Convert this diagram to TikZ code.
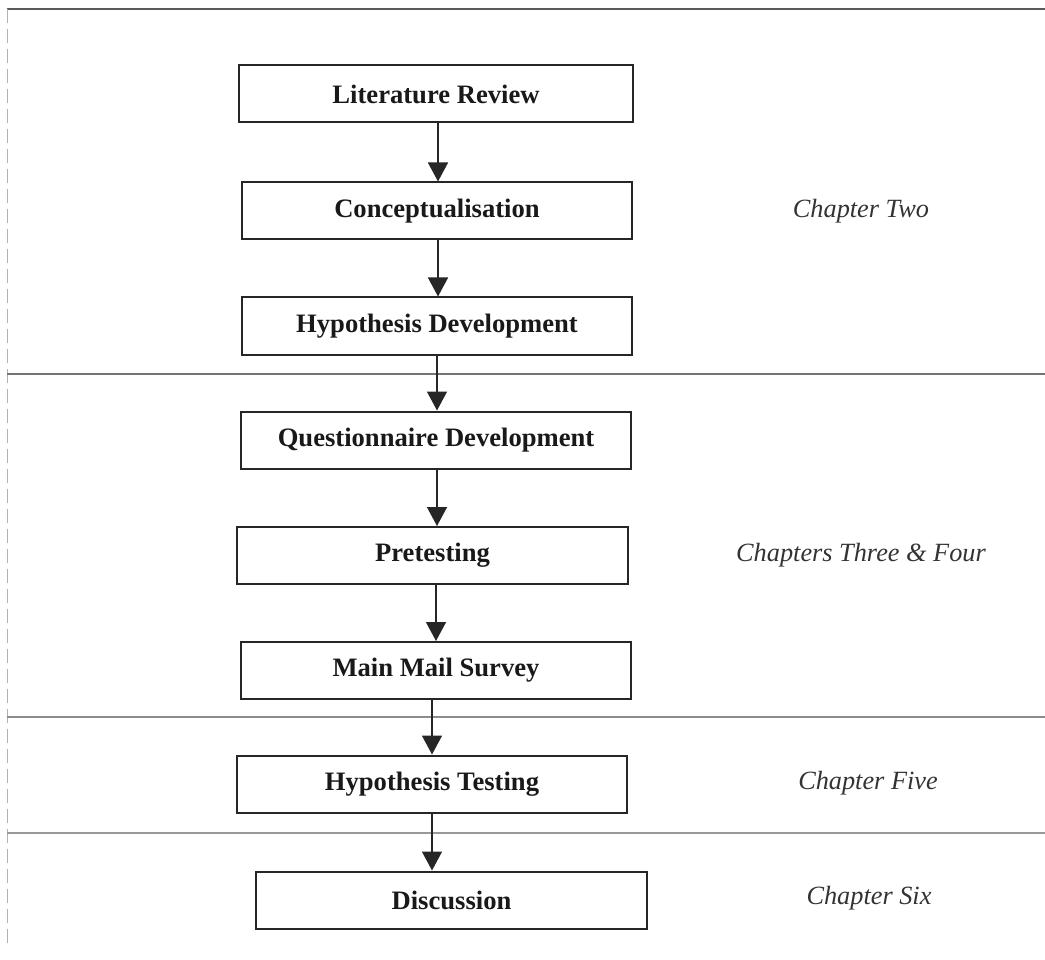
\documentclass[tikz,border=0pt]{standalone}
\usepackage{fontspec}
\setmainfont{Liberation Serif}
\usetikzlibrary{arrows.meta}
\begin{document}
\begin{tikzpicture}[x=1pt,y=-1pt,
  stepbox/.style={draw=black!85, line width=2pt, minimum height=57pt, inner sep=0pt,
    font=\fontsize{26.6}{30}\selectfont\bfseries, text=black!90},
  chap/.style={font=\fontsize{26.3}{30}\selectfont\itshape, text=black!80, inner sep=0pt},
  arr/.style={line width=1.5pt, draw=black!85, -{Triangle[width=20pt,length=19pt]}},
  rule/.style={line width=1.2pt, draw=black!55},
  edge/.style={line width=0.9pt, draw=black!30, dash pattern=on 14pt off 6pt}]
\useasboundingbox (0,0) rectangle (1045,960);
\fill[white] (0,0) rectangle (1045,960);
% frame and separators
\coordinate (tl) at (7,9);
\coordinate (tr) at (1045,9);
\coordinate (bl) at (7,945);
\draw[rule, draw=black!65] (tl) -- (tr);
\draw[edge] (tl) -- (bl);
\coordinate (s1l) at (7,374); \coordinate (s1r) at (1045,374);
\coordinate (s2l) at (7,717); \coordinate (s2r) at (1045,717);
\coordinate (s3l) at (7,833); \coordinate (s3r) at (1045,833);
\draw[rule] (s1l) -- (s1r);
\draw[rule, draw=black!45] (s2l) -- (s2r);
\draw[rule, draw=black!40] (s3l) -- (s3r);
% boxes
\node[stepbox, minimum width=394pt] (lit) at (436,94) {Literature Review};
\node[stepbox, minimum width=390pt] (con) at (437,211) {Conceptualisation};
\node[stepbox, minimum width=390pt] (hyd) at (437,326) {Hypothesis Development};
\node[stepbox, minimum width=390pt] (que) at (436,440) {Questionnaire Development};
\node[stepbox, minimum width=391pt] (pre) at (432.5,555.5) {Pretesting};
\node[stepbox, minimum width=390pt] (mms) at (436,670.5) {Main Mail Survey};
\node[stepbox, minimum width=390pt] (hyt) at (432,784) {Hypothesis Testing};
\node[stepbox, minimum width=391pt] (dis) at (451.5,900) {Discussion};
% arrow x positions
\coordinate (a1) at (438,0);
\coordinate (a2) at (438,0);
\coordinate (a3) at (437,0);
\coordinate (a4) at (437,0);
\coordinate (a5) at (436,0);
\coordinate (a6) at (432,0);
\coordinate (a7) at (432,0);
\draw[arr] (lit.south -| a1) -- (con.north -| a1);
\draw[arr] (con.south -| a2) -- (hyd.north -| a2);
\draw[arr] (hyd.south -| a3) -- (que.north -| a3);
\draw[arr] (que.south -| a4) -- (pre.north -| a4);
\draw[arr] (pre.south -| a5) -- (mms.north -| a5);
\draw[arr] (mms.south -| a6) -- (hyt.north -| a6);
\draw[arr] (hyt.south -| a7) -- (dis.north -| a7);
% chapter labels
\node[chap] (ch2) at (861,211) {Chapter Two};
\node[chap] (ch34) at (861,555) {Chapters Three \& Four};
\node[chap] (ch5) at (868,783) {Chapter Five};
\node[chap] (ch6) at (869,898) {Chapter Six};
\end{tikzpicture}
\end{document}
